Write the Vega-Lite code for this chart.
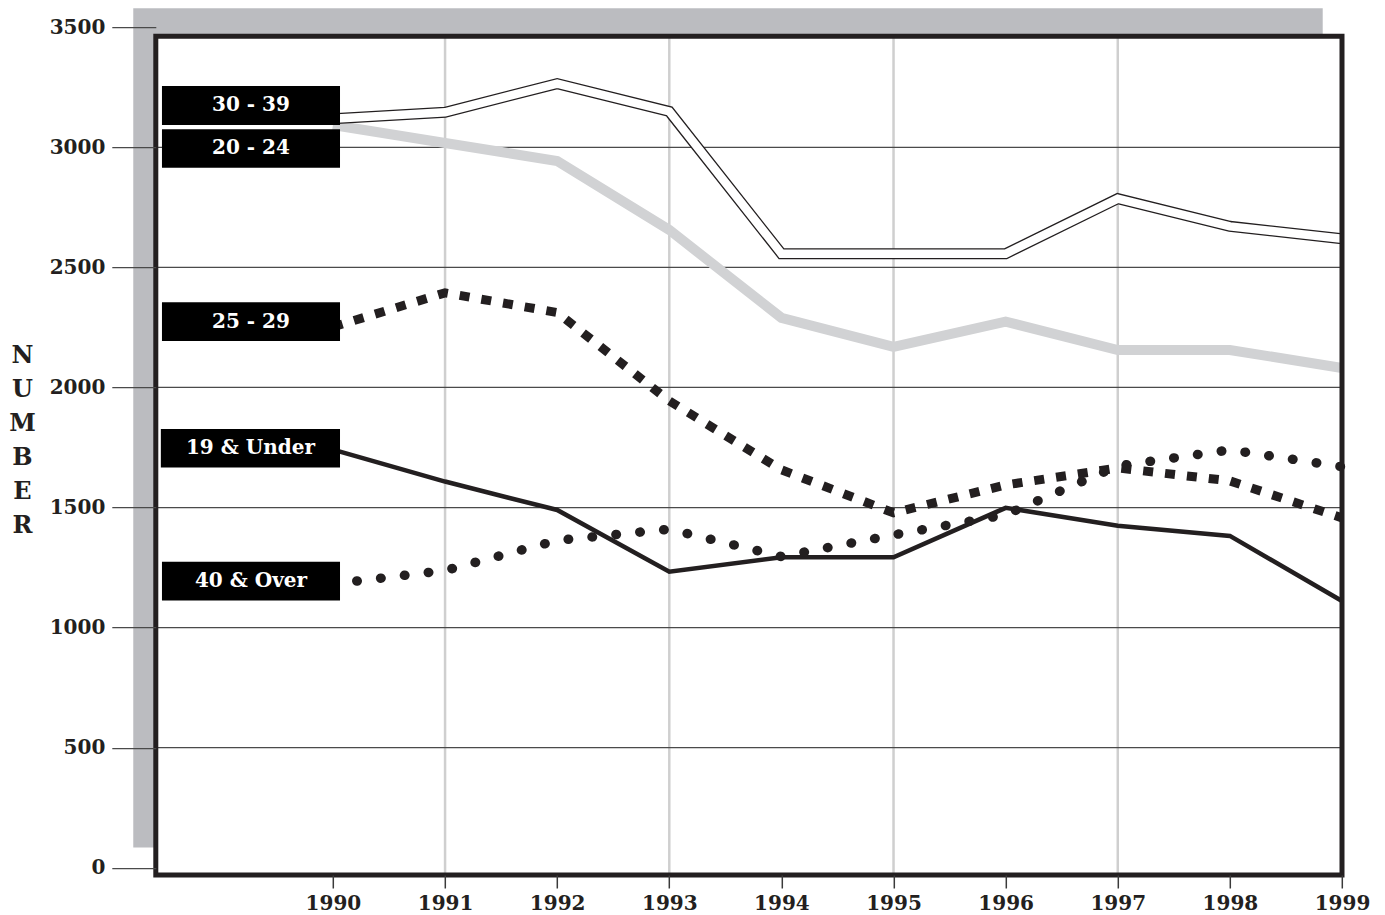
{
  "$schema": "https://vega.github.io/schema/vega-lite/v6.json",
  "width": 1186.2,
  "height": 847.8,
  "autosize": {"type": "none"},
  "padding": {"left": 155.8, "top": 27.2, "right": 43, "bottom": 40},
  "background": "white",
  "config": {"view": {"stroke": null}},
  "datasets": {
    "series": [
      {"group": "20 - 24", "year": 1990, "value": 3093},
      {"group": "20 - 24", "year": 1991, "value": 3018},
      {"group": "20 - 24", "year": 1992, "value": 2943},
      {"group": "20 - 24", "year": 1993, "value": 2656},
      {"group": "20 - 24", "year": 1994, "value": 2290},
      {"group": "20 - 24", "year": 1995, "value": 2169},
      {"group": "20 - 24", "year": 1996, "value": 2274},
      {"group": "20 - 24", "year": 1997, "value": 2156},
      {"group": "20 - 24", "year": 1998, "value": 2156},
      {"group": "20 - 24", "year": 1999, "value": 2081},
      {"group": "30 - 39", "year": 1990, "value": 3119},
      {"group": "30 - 39", "year": 1991, "value": 3146},
      {"group": "30 - 39", "year": 1992, "value": 3265},
      {"group": "30 - 39", "year": 1993, "value": 3149},
      {"group": "30 - 39", "year": 1994, "value": 2557},
      {"group": "30 - 39", "year": 1995, "value": 2557},
      {"group": "30 - 39", "year": 1996, "value": 2557},
      {"group": "30 - 39", "year": 1997, "value": 2786},
      {"group": "30 - 39", "year": 1998, "value": 2671},
      {"group": "30 - 39", "year": 1999, "value": 2619},
      {"group": "25 - 29", "year": 1990, "value": 2252},
      {"group": "25 - 29", "year": 1991, "value": 2394},
      {"group": "25 - 29", "year": 1992, "value": 2312},
      {"group": "25 - 29", "year": 1993, "value": 1944},
      {"group": "25 - 29", "year": 1994, "value": 1657},
      {"group": "25 - 29", "year": 1995, "value": 1478},
      {"group": "25 - 29", "year": 1996, "value": 1594},
      {"group": "25 - 29", "year": 1997, "value": 1665},
      {"group": "25 - 29", "year": 1998, "value": 1611},
      {"group": "25 - 29", "year": 1999, "value": 1457},
      {"group": "19 & Under", "year": 1990, "value": 1741},
      {"group": "19 & Under", "year": 1991, "value": 1608},
      {"group": "19 & Under", "year": 1992, "value": 1490},
      {"group": "19 & Under", "year": 1993, "value": 1233},
      {"group": "19 & Under", "year": 1994, "value": 1293},
      {"group": "19 & Under", "year": 1995, "value": 1293},
      {"group": "19 & Under", "year": 1996, "value": 1499},
      {"group": "19 & Under", "year": 1997, "value": 1424},
      {"group": "19 & Under", "year": 1998, "value": 1382},
      {"group": "19 & Under", "year": 1999, "value": 1111},
      {"group": "40 & Over", "year": 1990, "value": 1182},
      {"group": "40 & Over", "year": 1991, "value": 1238},
      {"group": "40 & Over", "year": 1992, "value": 1363},
      {"group": "40 & Over", "year": 1993, "value": 1410},
      {"group": "40 & Over", "year": 1994, "value": 1296},
      {"group": "40 & Over", "year": 1995, "value": 1386},
      {"group": "40 & Over", "year": 1996, "value": 1470},
      {"group": "40 & Over", "year": 1997, "value": 1673},
      {"group": "40 & Over", "year": 1998, "value": 1740},
      {"group": "40 & Over", "year": 1999, "value": 1670}
    ],
    "labels": [
      {"label": "30 - 39", "x0": 1988.475, "x1": 1990.063, "lo": 3092.9, "hi": 3255.2, "xc": 1989.269, "yc": 3174},
      {"label": "20 - 24", "x0": 1988.475, "x1": 1990.063, "lo": 2915.2, "hi": 3075, "xc": 1989.269, "yc": 2995},
      {"label": "25 - 29", "x0": 1988.475, "x1": 1990.063, "lo": 2193.8, "hi": 2354.8, "xc": 1989.269, "yc": 2274},
      {"label": "19 & Under", "x0": 1988.465, "x1": 1990.063, "lo": 1666.3, "hi": 1827.4, "xc": 1989.264, "yc": 1747},
      {"label": "40 & Over", "x0": 1988.475, "x1": 1990.063, "lo": 1112.7, "hi": 1273.8, "xc": 1989.269, "yc": 1193}
    ],
    "shadow": [{"x0": 1988.219, "x1": 1998.828, "lo": 84.5, "hi": 3578.7}],
    "frame": [{"x0": 1988.42, "x1": 1999, "lo": -30, "hi": 3462}],
    "vgrid": [{"year": 1991}, {"year": 1993}, {"year": 1995}, {"year": 1997}],
    "hgrid": [{"v": 500}, {"v": 1000}, {"v": 1500}, {"v": 2000}, {"v": 2500}, {"v": 3000}]
  },
  "layer": [
    {
      "data": {"name": "shadow"},
      "mark": {"type": "rect", "fill": "#bbbcc0", "clip": false},
      "encoding": {
        "x": {"field": "x0", "type": "quantitative", "scale": {"domain": [1988.42, 1999], "nice": false, "zero": false},
          "axis": {"values": [1990, 1991, 1992, 1993, 1994, 1995, 1996, 1997, 1998, 1999], "format": "d", "grid": false, "domain": false,
            "tickSize": 13, "tickWidth": 1.5, "tickColor": "#3a3a3a", "labelFont": "DejaVu Serif", "labelFontWeight": "bold",
            "labelFontSize": 20, "labelColor": "#231f20", "labelPadding": 5, "labelFlush": false, "labelOverlap": false, "title": null, "zindex": 1}},
        "x2": {"field": "x1"},
        "y": {"field": "lo", "type": "quantitative", "scale": {"domain": [-30, 3500], "nice": false, "zero": false},
          "axis": {"values": [0, 500, 1000, 1500, 2000, 2500, 3000, 3500], "format": "d", "grid": false, "domain": false,
            "tickSize": 44, "tickWidth": 1.3, "tickColor": "#4a4a4a", "labelPadding": 7, "labelFont": "DejaVu Serif",
            "labelFontWeight": "bold", "labelFontSize": 20, "labelColor": "#231f20", "labelOverlap": false,
            "title": ["N", "U", "M", "B", "E", "R"], "titleAngle": 0, "titleX": -133.8, "titleY": 315.8,
            "titleAlign": "center", "titleBaseline": "top", "titleLineHeight": 34, "titleFont": "DejaVu Serif",
            "titleFontWeight": "bold", "titleFontSize": 24, "titleColor": "#231f20", "zindex": 1}},
        "y2": {"field": "hi"}
      }
    },
    {
      "data": {"name": "frame"},
      "mark": {"type": "rect", "fill": "white", "clip": false},
      "encoding": {
        "x": {"field": "x0", "type": "quantitative", "scale": {"domain": [1988.42, 1999], "nice": false, "zero": false}},
        "x2": {"field": "x1"},
        "y": {"field": "lo", "type": "quantitative", "scale": {"domain": [-30, 3500], "nice": false, "zero": false}},
        "y2": {"field": "hi"}
      }
    },
    {
      "data": {"name": "vgrid"},
      "mark": {"type": "rule", "color": "#cfcfcf", "strokeWidth": 2.5},
      "encoding": {
        "x": {"field": "year", "type": "quantitative", "scale": {"domain": [1988.42, 1999], "nice": false, "zero": false}},
        "y": {"datum": -30, "type": "quantitative", "scale": {"domain": [-30, 3500], "nice": false, "zero": false}},
        "y2": {"datum": 3462}
      }
    },
    {
      "data": {"name": "hgrid"},
      "mark": {"type": "rule", "color": "#4a4a4a", "strokeWidth": 1.3},
      "encoding": {
        "y": {"field": "v", "type": "quantitative", "scale": {"domain": [-30, 3500], "nice": false, "zero": false}},
        "x": {"datum": 1988.42, "type": "quantitative", "scale": {"domain": [1988.42, 1999], "nice": false, "zero": false}},
        "x2": {"datum": 1999}
      }
    },
    {
      "data": {"name": "series"},
      "transform": [{"filter": "datum.group === '20 - 24'"}],
      "mark": {"type": "line", "color": "#d1d2d4", "strokeWidth": 10, "strokeJoin": "miter"},
      "encoding": {
        "x": {"field": "year", "type": "quantitative", "scale": {"domain": [1988.42, 1999], "nice": false, "zero": false}},
        "y": {"field": "value", "type": "quantitative", "scale": {"domain": [-30, 3500], "nice": false, "zero": false}}
      }
    },
    {
      "data": {"name": "series"},
      "transform": [{"filter": "datum.group === '30 - 39'"}],
      "mark": {"type": "line", "color": "#231f20", "strokeWidth": 11, "strokeJoin": "miter"},
      "encoding": {
        "x": {"field": "year", "type": "quantitative", "scale": {"domain": [1988.42, 1999], "nice": false, "zero": false}},
        "y": {"field": "value", "type": "quantitative", "scale": {"domain": [-30, 3500], "nice": false, "zero": false}}
      }
    },
    {
      "data": {"name": "series"},
      "transform": [{"filter": "datum.group === '30 - 39'"}],
      "mark": {"type": "line", "color": "white", "strokeWidth": 8.4, "strokeJoin": "miter"},
      "encoding": {
        "x": {"field": "year", "type": "quantitative", "scale": {"domain": [1988.42, 1999], "nice": false, "zero": false}},
        "y": {"field": "value", "type": "quantitative", "scale": {"domain": [-30, 3500], "nice": false, "zero": false}}
      }
    },
    {
      "data": {"name": "series"},
      "transform": [{"filter": "datum.group === '19 & Under'"}],
      "mark": {"type": "line", "color": "#231f20", "strokeWidth": 4.6, "strokeJoin": "miter"},
      "encoding": {
        "x": {"field": "year", "type": "quantitative", "scale": {"domain": [1988.42, 1999], "nice": false, "zero": false}},
        "y": {"field": "value", "type": "quantitative", "scale": {"domain": [-30, 3500], "nice": false, "zero": false}}
      }
    },
    {
      "data": {"name": "series"},
      "transform": [{"filter": "datum.group === '25 - 29'"}],
      "mark": {"type": "line", "color": "#231f20", "strokeWidth": 9, "strokeDash": [10, 12], "strokeCap": "butt"},
      "encoding": {
        "x": {"field": "year", "type": "quantitative", "scale": {"domain": [1988.42, 1999], "nice": false, "zero": false}},
        "y": {"field": "value", "type": "quantitative", "scale": {"domain": [-30, 3500], "nice": false, "zero": false}}
      }
    },
    {
      "data": {"name": "series"},
      "transform": [{"filter": "datum.group === '40 & Over'"}],
      "mark": {"type": "line", "color": "#231f20", "strokeWidth": 9.5, "strokeDash": [0.5, 23.5], "strokeCap": "round"},
      "encoding": {
        "x": {"field": "year", "type": "quantitative", "scale": {"domain": [1988.42, 1999], "nice": false, "zero": false}},
        "y": {"field": "value", "type": "quantitative", "scale": {"domain": [-30, 3500], "nice": false, "zero": false}}
      }
    },
    {
      "data": {"name": "labels"},
      "mark": {"type": "rect", "fill": "black", "clip": false},
      "encoding": {
        "x": {"field": "x0", "type": "quantitative", "scale": {"domain": [1988.42, 1999], "nice": false, "zero": false}},
        "x2": {"field": "x1"},
        "y": {"field": "lo", "type": "quantitative", "scale": {"domain": [-30, 3500], "nice": false, "zero": false}},
        "y2": {"field": "hi"}
      }
    },
    {
      "data": {"name": "labels"},
      "mark": {"type": "text", "color": "white", "font": "DejaVu Serif", "fontWeight": "bold", "fontSize": 20, "align": "center", "baseline": "middle"},
      "encoding": {
        "x": {"field": "xc", "type": "quantitative", "scale": {"domain": [1988.42, 1999], "nice": false, "zero": false}},
        "y": {"field": "yc", "type": "quantitative", "scale": {"domain": [-30, 3500], "nice": false, "zero": false}},
        "text": {"field": "label"}
      }
    },
    {
      "data": {"name": "frame"},
      "mark": {"type": "rect", "fill": null, "fillOpacity": 0, "stroke": "#231f20", "strokeWidth": 5, "clip": false},
      "encoding": {
        "x": {"field": "x0", "type": "quantitative", "scale": {"domain": [1988.42, 1999], "nice": false, "zero": false}},
        "x2": {"field": "x1"},
        "y": {"field": "lo", "type": "quantitative", "scale": {"domain": [-30, 3500], "nice": false, "zero": false}},
        "y2": {"field": "hi"}
      }
    }
  ]
}
